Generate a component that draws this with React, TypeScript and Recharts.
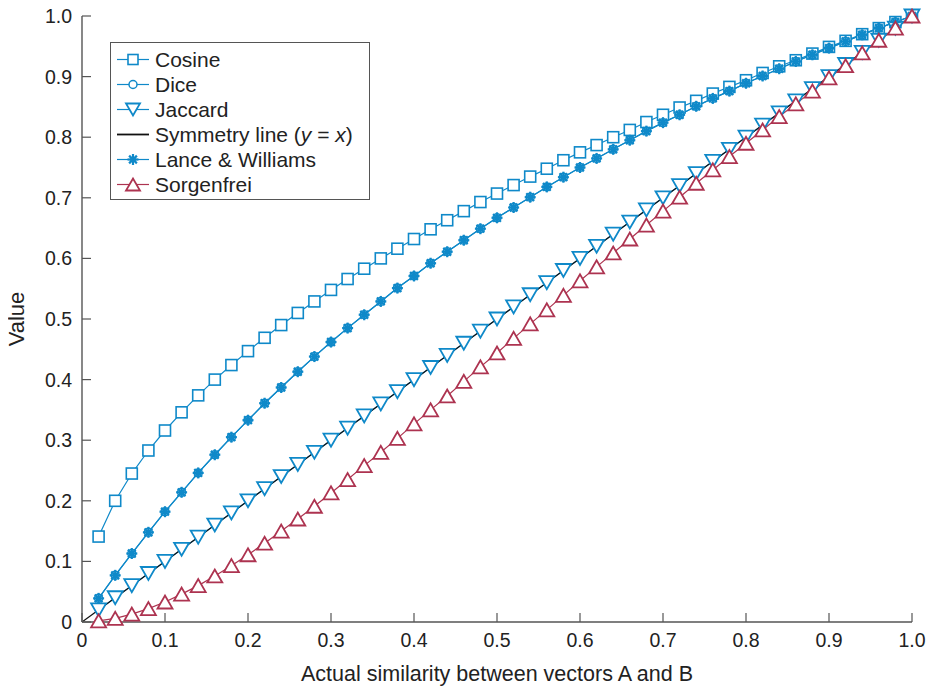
import React from 'react';
import { ComposedChart, Line, XAxis, YAxis } from 'recharts';

// similarity steps on the x axis
const xs = [
  0.02, 0.04, 0.06, 0.08, 0.1, 0.12, 0.14, 0.16, 0.18, 0.2,
  0.22, 0.24, 0.26, 0.28, 0.3, 0.32, 0.34, 0.36, 0.38, 0.4,
  0.42, 0.44, 0.46, 0.48, 0.5, 0.52, 0.54, 0.56, 0.58, 0.6,
  0.62, 0.64, 0.66, 0.68, 0.7, 0.72, 0.74, 0.76, 0.78, 0.8,
  0.82, 0.84, 0.86, 0.88, 0.9, 0.92, 0.94, 0.96, 0.98, 1.0,
];

const cosine = [
  0.141, 0.2, 0.245, 0.283, 0.316, 0.346, 0.374, 0.4, 0.424, 0.447,
  0.469, 0.49, 0.51, 0.529, 0.548, 0.566, 0.583, 0.6, 0.616, 0.632,
  0.648, 0.663, 0.678, 0.693, 0.707, 0.721, 0.735, 0.748, 0.762, 0.775,
  0.787, 0.8, 0.812, 0.825, 0.837, 0.849, 0.86, 0.872, 0.883, 0.894,
  0.906, 0.917, 0.927, 0.938, 0.949, 0.959, 0.97, 0.98, 0.99, 1.0,
];

const dice = [
  0.039, 0.077, 0.113, 0.148, 0.182, 0.214, 0.246, 0.276, 0.305, 0.333,
  0.361, 0.387, 0.413, 0.438, 0.462, 0.485, 0.507, 0.529, 0.551, 0.571,
  0.592, 0.611, 0.63, 0.649, 0.667, 0.684, 0.701, 0.718, 0.734, 0.75,
  0.765, 0.78, 0.795, 0.81, 0.824, 0.837, 0.851, 0.864, 0.876, 0.889,
  0.901, 0.913, 0.925, 0.936, 0.947, 0.958, 0.969, 0.98, 0.99, 1.0,
];

const jaccard = [
  0.02, 0.04, 0.06, 0.08, 0.1, 0.12, 0.14, 0.16, 0.18, 0.2,
  0.22, 0.24, 0.26, 0.28, 0.3, 0.32, 0.34, 0.36, 0.38, 0.4,
  0.42, 0.44, 0.46, 0.48, 0.5, 0.52, 0.54, 0.56, 0.58, 0.6,
  0.62, 0.64, 0.66, 0.68, 0.7, 0.72, 0.74, 0.76, 0.78, 0.8,
  0.82, 0.84, 0.86, 0.88, 0.9, 0.92, 0.94, 0.96, 0.98, 1.0,
];

const lanceWilliams = [
  0.039, 0.077, 0.113, 0.148, 0.182, 0.214, 0.246, 0.276, 0.305, 0.333,
  0.361, 0.387, 0.413, 0.438, 0.462, 0.485, 0.507, 0.529, 0.551, 0.571,
  0.592, 0.611, 0.63, 0.649, 0.667, 0.684, 0.701, 0.718, 0.734, 0.75,
  0.765, 0.78, 0.795, 0.81, 0.824, 0.837, 0.851, 0.864, 0.876, 0.889,
  0.901, 0.913, 0.925, 0.936, 0.947, 0.958, 0.969, 0.98, 0.99, 1.0,
];

const sorgenfrei = [
  0.002, 0.006, 0.013, 0.022, 0.033, 0.046, 0.06, 0.076, 0.093, 0.111,
  0.13, 0.15, 0.17, 0.191, 0.213, 0.235, 0.258, 0.28, 0.303, 0.327,
  0.35, 0.373, 0.397, 0.421, 0.444, 0.468, 0.492, 0.515, 0.539, 0.563,
  0.586, 0.609, 0.632, 0.655, 0.678, 0.701, 0.724, 0.746, 0.768, 0.79,
  0.812, 0.834, 0.855, 0.876, 0.898, 0.918, 0.939, 0.96, 0.98, 1.0,
];

// y = x reference line
const symX = [0, 1];
const symY = [0, 1];

const ticks = [0, 0.1, 0.2, 0.3, 0.4, 0.5, 0.6, 0.7, 0.8, 0.9, 1.0];
const tickLabels = ['0', '0.1', '0.2', '0.3', '0.4', '0.5', '0.6', '0.7', '0.8', '0.9', '1.0'];

const BLUE = '#0f89c9';
const RED = '#ad3350';
const AXIS = '#555';
const FONT = '"Liberation Sans", Arial, Helvetica, sans-serif';

const rows = xs.map((x, i) => ({
  x,
  cosine: cosine[i],
  dice: dice[i],
  jaccard: jaccard[i],
  lance: lanceWilliams[i],
  sorgenfrei: sorgenfrei[i],
}));

const symRows = symX.map((x, i) => ({ x, sym: symY[i] }));

const labelFor = (v: number) => {
  const i = ticks.findIndex((t) => Math.abs(t - v) < 1e-9);
  return i >= 0 ? tickLabels[i] : String(v);
};

/* ---------- markers ---------- */
const squareDot = (props: any) => {
  const { cx, cy, index } = props;
  if (cx == null || cy == null) return <g key={`sq-${index}`} />;
  return (
    <rect key={`sq-${index}`} x={cx - 5.5} y={cy - 5.5} width={11} height={11}
      fill="#fff" stroke={BLUE} strokeWidth={1.6} />
  );
};

const circleDot = (props: any) => {
  const { cx, cy, index } = props;
  if (cx == null || cy == null) return <g key={`ci-${index}`} />;
  return <circle key={`ci-${index}`} cx={cx} cy={cy} r={4} fill="#fff" stroke={BLUE} strokeWidth={1.5} />;
};

const downTriDot = (props: any) => {
  const { cx, cy, index } = props;
  if (cx == null || cy == null) return <g key={`dt-${index}`} />;
  const pts = `${cx - 7.5},${cy - 6.5} ${cx + 7.5},${cy - 6.5} ${cx},${cy + 6.5}`;
  return <polygon key={`dt-${index}`} points={pts} fill="#fff" stroke={BLUE} strokeWidth={1.8} />;
};

const upTriDot = (props: any) => {
  const { cx, cy, index } = props;
  if (cx == null || cy == null) return <g key={`ut-${index}`} />;
  const pts = `${cx - 7.5},${cy + 6.5} ${cx + 7.5},${cy + 6.5} ${cx},${cy - 6.5}`;
  return <polygon key={`ut-${index}`} points={pts} fill="#fff" stroke={RED} strokeWidth={1.8} />;
};

const StarShape = ({ cx, cy, color }: { cx: number; cy: number; color: string }) => {
  const r = 5.5;
  const d = r * 0.707;
  return (
    <g stroke={color} strokeWidth={2.2}>
      <line x1={cx - r} y1={cy} x2={cx + r} y2={cy} />
      <line x1={cx} y1={cy - r} x2={cx} y2={cy + r} />
      <line x1={cx - d} y1={cy - d} x2={cx + d} y2={cy + d} />
      <line x1={cx - d} y1={cy + d} x2={cx + d} y2={cy - d} />
      <circle cx={cx} cy={cy} r={2.8} fill={color} stroke="none" />
    </g>
  );
};

const starDot = (props: any) => {
  const { cx, cy, index } = props;
  if (cx == null || cy == null) return <g key={`st-${index}`} />;
  return (
    <g key={`st-${index}`}>
      <StarShape cx={cx} cy={cy} color={BLUE} />
    </g>
  );
};

/* ---------- inward ticks ---------- */
const BottomTick = (props: any) => {
  const { x, y, payload } = props;
  return (
    <g>
      <line x1={x} y1={y} x2={x} y2={y - 9} stroke={AXIS} strokeWidth={1.2} />
      <text x={x} y={y + 25} textAnchor="middle" fill="#222" fontSize={19.5} fontFamily={FONT}>
        {labelFor(payload.value)}
      </text>
    </g>
  );
};

const TopTick = (props: any) => {
  const { x, y } = props;
  return <line x1={x} y1={y} x2={x} y2={y + 9} stroke={AXIS} strokeWidth={1.2} />;
};

const LeftTick = (props: any) => {
  const { x, y, payload } = props;
  return (
    <g>
      <line x1={x} y1={y} x2={x + 9} y2={y} stroke={AXIS} strokeWidth={1.2} />
      <text x={x - 10} y={y} dy="0.36em" textAnchor="end" fill="#222" fontSize={19.5} fontFamily={FONT}>
        {labelFor(payload.value)}
      </text>
    </g>
  );
};

const RightTick = (props: any) => {
  const { x, y } = props;
  return <line x1={x} y1={y} x2={x - 9} y2={y} stroke={AXIS} strokeWidth={1.2} />;
};

/* ---------- legend ---------- */
type LegendRow = { name: React.ReactNode; color: string; marker: 'square' | 'circle' | 'down' | 'up' | 'star' | 'none' };

const legendRows: LegendRow[] = [
  { name: 'Cosine', color: BLUE, marker: 'square' },
  { name: 'Dice', color: BLUE, marker: 'circle' },
  { name: 'Jaccard', color: BLUE, marker: 'down' },
  {
    name: (
      <>
        Symmetry line (<i>y</i> = <i>x</i>)
      </>
    ),
    color: '#111',
    marker: 'none',
  },
  { name: 'Lance & Williams', color: BLUE, marker: 'star' },
  { name: 'Sorgenfrei', color: RED, marker: 'up' },
];

const LegendSample = ({ color, marker }: { color: string; marker: LegendRow['marker'] }) => {
  const cx = 22;
  const cy = 12.5;
  return (
    <svg width={40} height={25} style={{ display: 'block' }}>
      <line x1={6} y1={cy} x2={38} y2={cy} stroke={color} strokeWidth={marker === 'none' ? 1.8 : 1.2} />
      {marker === 'square' && <rect x={cx - 5} y={cy - 5} width={10} height={10} fill="#fff" stroke={color} strokeWidth={1.6} />}
      {marker === 'circle' && <circle cx={cx} cy={cy} r={4} fill="#fff" stroke={color} strokeWidth={1.5} />}
      {marker === 'down' && (
        <polygon points={`${cx - 7},${cy - 6} ${cx + 7},${cy - 6} ${cx},${cy + 6}`} fill="#fff" stroke={color} strokeWidth={1.8} />
      )}
      {marker === 'up' && (
        <polygon points={`${cx - 7},${cy + 6} ${cx + 7},${cy + 6} ${cx},${cy - 6}`} fill="#fff" stroke={color} strokeWidth={1.8} />
      )}
      {marker === 'star' && <StarShape cx={cx} cy={cy} color={color} />}
    </svg>
  );
};

export default function App() {
  // cancel the default 8px body margin so chart coords match the page
  return (
    <div style={{ position: 'relative', width: 934, height: 686, margin: '-8px 0 0 -8px', fontFamily: FONT }}>
      <ComposedChart
        width={934}
        height={686}
        data={rows}
        margin={{ top: 16, right: 22, left: 0, bottom: 0 }}
      >
        <XAxis
          xAxisId="bottom"
          dataKey="x"
          type="number"
          domain={[0, 1]}
          ticks={ticks}
          height={64}
          tickSize={0}
          tickMargin={0}
          tick={BottomTick}
          axisLine={{ stroke: AXIS, strokeWidth: 1.4 }}
          tickLine={false}
          interval={0}
          label={{
            value: 'Actual similarity between vectors A and B',
            position: 'insideBottom',
            offset: 5,
            fill: '#222',
            fontSize: 21.5,
            fontFamily: FONT,
          }}
        />
        <XAxis
          xAxisId="top"
          orientation="top"
          dataKey="x"
          type="number"
          domain={[0, 1]}
          ticks={ticks}
          height={0}
          tickSize={0}
          tickMargin={0}
          tick={TopTick}
          axisLine={{ stroke: AXIS, strokeWidth: 1.4 }}
          tickLine={false}
          interval={0}
        />
        <YAxis
          yAxisId="left"
          type="number"
          domain={[0, 1]}
          ticks={ticks}
          width={82}
          tickSize={0}
          tickMargin={0}
          tick={LeftTick}
          axisLine={{ stroke: AXIS, strokeWidth: 1.4 }}
          tickLine={false}
          interval={0}
          label={{
            value: 'Value',
            angle: -90,
            position: 'insideLeft',
            offset: 16,
            fill: '#222',
            fontSize: 22,
            fontFamily: FONT,
            style: { textAnchor: 'middle' },
          }}
        />
        <YAxis
          yAxisId="right"
          orientation="right"
          type="number"
          domain={[0, 1]}
          ticks={ticks}
          width={0}
          tickSize={0}
          tickMargin={0}
          tick={RightTick}
          axisLine={{ stroke: AXIS, strokeWidth: 1.4 }}
          tickLine={false}
          interval={0}
        />

        <Line xAxisId="bottom" yAxisId="left" type="linear" dataKey="cosine" stroke={BLUE} strokeWidth={1.2}
          dot={squareDot} activeDot={false} isAnimationActive={false} />
        <Line xAxisId="bottom" yAxisId="left" type="linear" dataKey="dice" stroke={BLUE} strokeWidth={1.2}
          dot={circleDot} activeDot={false} isAnimationActive={false} />
        <Line xAxisId="bottom" yAxisId="left" type="linear" dataKey="jaccard" stroke={BLUE} strokeWidth={1.2}
          dot={downTriDot} activeDot={false} isAnimationActive={false} />
        <Line xAxisId="bottom" yAxisId="left" type="linear" data={symRows} dataKey="sym" stroke="#111" strokeWidth={1.2}
          dot={false} activeDot={false} isAnimationActive={false} />
        <Line xAxisId="bottom" yAxisId="left" type="linear" dataKey="lance" stroke={BLUE} strokeWidth={1.2}
          dot={starDot} activeDot={false} isAnimationActive={false} />
        <Line xAxisId="bottom" yAxisId="left" type="linear" dataKey="sorgenfrei" stroke={RED} strokeWidth={1.2}
          dot={upTriDot} activeDot={false} isAnimationActive={false} />
      </ComposedChart>

      {/* legend box, top-left inside the plot */}
      <div
        style={{
          position: 'absolute',
          left: 110,
          top: 42,
          width: 260,
          height: 158,
          border: `1.4px solid ${AXIS}`,
          background: '#fff',
          boxSizing: 'border-box',
          paddingTop: 4,
        }}
      >
        {legendRows.map((r, i) => (
          <div key={i} style={{ display: 'flex', alignItems: 'center', height: 25 }}>
            <div style={{ width: 44, flex: 'none' }}>
              <LegendSample color={r.color} marker={r.marker} />
            </div>
            <span style={{ fontSize: 21, color: '#222', whiteSpace: 'nowrap' }}>{r.name}</span>
          </div>
        ))}
      </div>
    </div>
  );
}
